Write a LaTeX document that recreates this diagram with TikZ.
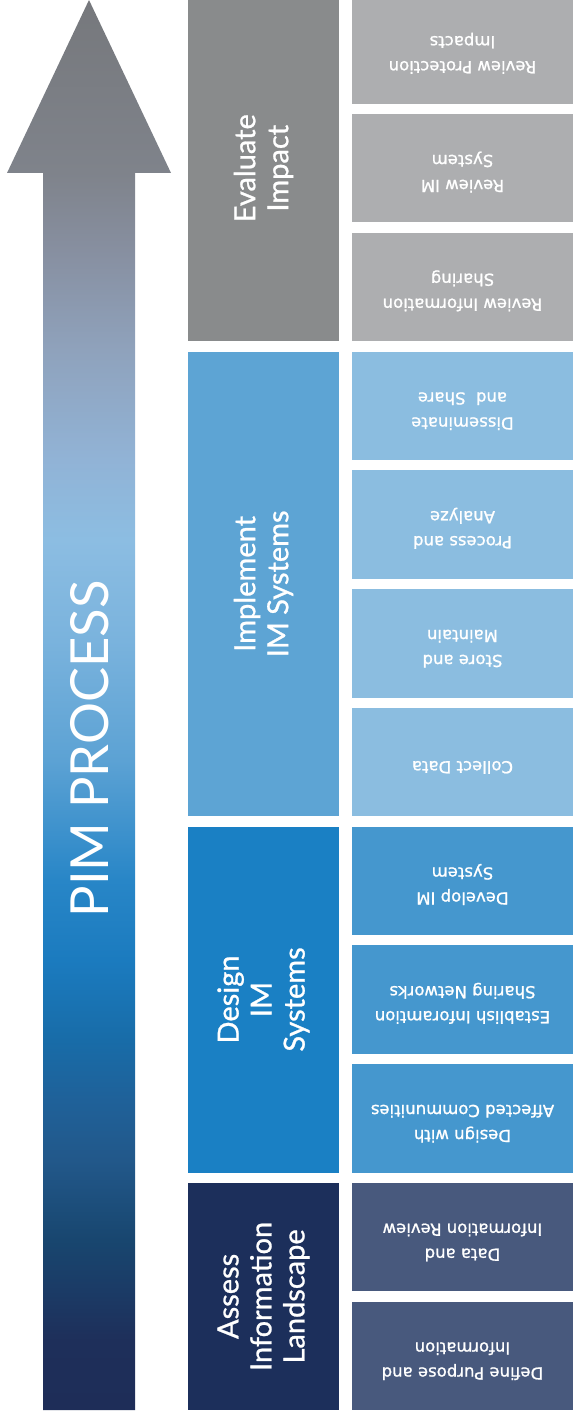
\documentclass[tikz,border=0pt]{standalone}
\usepackage{fontspec}
\usepackage{tikz}
\usetikzlibrary{positioning,calc}
\newfontfamily\latofont{Lato}
\newfontfamily\latomedium[FakeBold=0.9]{Lato}
\newfontfamily\dejavufont[FakeBold=1.1]{DejaVu Sans}

\definecolor{evaldark}{HTML}{898B8C}
\definecolor{evalstep}{HTML}{ADAEB0}
\definecolor{impldark}{HTML}{5DA4D4}
\definecolor{implstep}{HTML}{8BBDE0}
\definecolor{designdark}{HTML}{1A80C4}
\definecolor{designstep}{HTML}{4597CE}
\definecolor{assessdark}{HTML}{1C2F5B}
\definecolor{assessstep}{HTML}{48597D}

% colours of the big arrow, bottom to top
\definecolor{pa}{HTML}{1E2D58}
\definecolor{pb}{HTML}{1E2F5A}
\definecolor{pc}{HTML}{1B3B66}
\definecolor{pd}{HTML}{18466F}
\definecolor{pe}{HTML}{22588A}
\definecolor{pf}{HTML}{1F6199}
\definecolor{pg}{HTML}{186CA8}
\definecolor{ph}{HTML}{1B7BBF}
\definecolor{pi}{HTML}{2886C7}
\definecolor{pj}{HTML}{5CA2D4}
\definecolor{pk}{HTML}{7AB3DD}
\definecolor{pl}{HTML}{8CBDE2}
\definecolor{pm}{HTML}{91B3D6}
\definecolor{pn}{HTML}{8FA2BC}
\definecolor{po}{HTML}{878FA0}
\definecolor{pp}{HTML}{7F838B}
\definecolor{pq}{HTML}{76787C}
\pgfdeclareverticalshading{pimshade}{100bp}{color(0bp)=(pa); color(25bp)=(pa);
  color(27.48bp)=(pb); color(29.26bp)=(pc); color(31.03bp)=(pd); color(33.87bp)=(pe);
  color(35.99bp)=(pf); color(38.12bp)=(pg); color(40.96bp)=(ph); color(43.79bp)=(pi);
  color(48.05bp)=(pj); color(52.3bp)=(pk); color(55.85bp)=(pl); color(58.69bp)=(pm);
  color(62.59bp)=(pn); color(66.13bp)=(po); color(68.87bp)=(pp); color(75bp)=(pq);
  color(100bp)=(pq)}

\begin{document}
\begin{tikzpicture}[x=1pt,y=1pt,
    stepbox/.style={rectangle, inner sep=0pt, minimum width=221pt, minimum height=108.5pt,
      rotate=180, align=center, text=white, text depth=11pt,
      font=\dejavufont\fontsize{16.5}{25}\selectfont},
    stagebox/.style={rectangle, inner sep=0pt, minimum height=151pt,
      rotate=90, align=center, text=white, font=\latomedium\fontsize{29}{33}\selectfont}]
    \useasboundingbox (0,0) rectangle (573,-1423);

    % process arrow
    \shade[shading=pimshade] (43,-1410) -- (43,-173) -- (7,-173) -- (89,0)
        -- (171,-173) -- (135,-173) -- (135,-1410) -- cycle;
    \node[rotate=90, text=white, inner sep=0pt, font=\latofont\fontsize{52.5}{60}\selectfont] (title) at (90,-749) {PIM PROCESS};

    % steps, from the bottom up
    \foreach \i/\c/\t in {0/assessstep/{Define Purpose and\\Information},
        1/assessstep/{Data and\\Information Review},
        2/designstep/{Design with\\Affected Communities},
        3/designstep/{Establish Inforamtion\\Sharing Networks},
        4/designstep/{Develop IM\\System},
        5/implstep/{Collect Data},
        6/implstep/{Store and\\Maintain},
        7/implstep/{Process and\\Analyze},
        8/implstep/{Disseminate\\and~ Share},
        9/evalstep/{Review Information\\Sharing},
        10/evalstep/{Review IM\\System},
        11/evalstep/{Review Protection\\Impacts}} {
        \node[stepbox, fill=\c] (step\i) at (462.5,{-(1355.75-118.75*\i)}) {\t};
    }

    % stages
    \foreach \n/\a/\b/\c/\t in {assess/0/1/assessdark/{Assess\\Information\\Landscape},
        design/2/4/designdark/{Design\\IM\\Systems},
        impl/5/8/impldark/{Implement\\IM Systems},
        eval/9/11/evaldark/{Evaluate\\Impact}} {
        \pgfmathsetmacro{\stagelen}{(\b-\a)*118.75+108.5}
        \pgfmathsetmacro{\stagemid}{1410-\a*118.75-\stagelen/2}
        \node[stagebox, fill=\c, minimum width=\stagelen pt] (\n) at (263.5,-\stagemid) {\t};
    }
\end{tikzpicture}
\end{document}
